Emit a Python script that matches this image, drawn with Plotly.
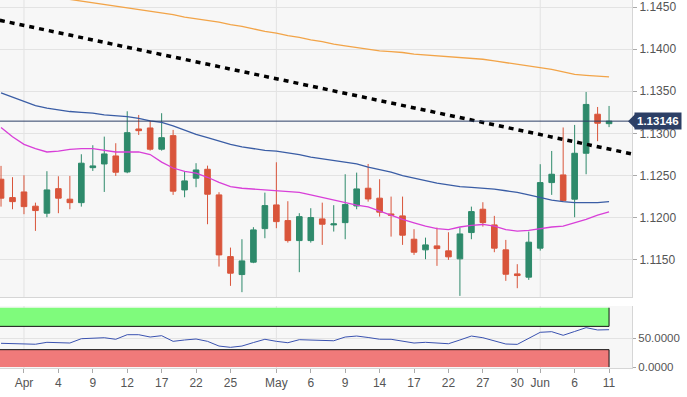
import pandas as pd
import plotly.graph_objects as go

# ---------------- data (EUR/USD daily) ----------------
dates = [d.strftime("%Y-%m-%d") for d in pd.bdate_range("2019-03-28", "2019-06-11")]

open_ = [1.12457, 1.12239, 1.12306, 1.12137, 1.12054, 1.12345, 1.12220, 1.12179, 1.12594, 1.12638,
         1.12733, 1.12543, 1.13053, 1.13065, 1.12813, 1.12974, 1.12330, 1.12469, 1.12575, 1.12271,
         1.11539, 1.11326, 1.11473, 1.11871, 1.12152, 1.11966, 1.11729, 1.11729, 1.11986, 1.11915,
         1.11942, 1.12140, 1.12350, 1.12232, 1.12045, 1.12022, 1.11745, 1.11619, 1.11666, 1.11607,
         1.11512, 1.11824, 1.12101, 1.11915, 1.11619, 1.11334, 1.11295, 1.11639, 1.12417, 1.12508,
         1.12220, 1.12765, 1.13228, 1.13116]
high = [1.12615, 1.12481, 1.12504, 1.12179, 1.12552, 1.12492, 1.12496, 1.12753, 1.12860, 1.12962,
        1.12884, 1.13263, 1.13219, 1.13152, 1.13240, 1.13042, 1.12555, 1.12647, 1.12618, 1.12303,
        1.11646, 1.11745, 1.11888, 1.12298, 1.12658, 1.12196, 1.12054, 1.12113, 1.12179, 1.12149,
        1.12516, 1.12535, 1.12638, 1.12457, 1.12251, 1.12251, 1.11864, 1.11764, 1.11883, 1.11828,
        1.11883, 1.12132, 1.12184, 1.12022, 1.11737, 1.11449, 1.11836, 1.12635, 1.12792, 1.13071,
        1.13101, 1.13492, 1.13314, 1.13326]
low = [1.12132, 1.12101, 1.12042, 1.11844, 1.12006, 1.12054, 1.12101, 1.12132, 1.12555, 1.12306,
       1.12496, 1.12528, 1.12982, 1.12796, 1.12796, 1.12271, 1.12243, 1.12362, 1.11923, 1.11421,
       1.11192, 1.11117, 1.11461, 1.11757, 1.11876, 1.11705, 1.11354, 1.11705, 1.11678, 1.11836,
       1.11745, 1.12101, 1.12191, 1.12013, 1.11776, 1.11678, 1.11559, 1.11508, 1.11429, 1.11500,
       1.11073, 1.11745, 1.11895, 1.11591, 1.11251, 1.11164, 1.11263, 1.11610, 1.12271, 1.12195,
       1.12006, 1.12516, 1.12908, 1.13075]
close = [1.12232, 1.12191, 1.12132, 1.12085, 1.12330, 1.12232, 1.12179, 1.12647, 1.12615, 1.12757,
         1.12540, 1.13009, 1.13033, 1.12813, 1.12950, 1.12315, 1.12437, 1.12567, 1.12279, 1.11559,
         1.11342, 1.11488, 1.11856, 1.12144, 1.11954, 1.11729, 1.12013, 1.12002, 1.11923, 1.11927,
         1.12156, 1.12342, 1.12223, 1.12066, 1.12030, 1.11793, 1.11591, 1.11678, 1.11634, 1.11536,
         1.11808, 1.12073, 1.11942, 1.11639, 1.11330, 1.11314, 1.11710, 1.12417, 1.12516, 1.12203,
         1.12765, 1.13344, 1.13121, 1.13146]

sma_slow = [1.1472, 1.1470, 1.1468, 1.1466, 1.1463, 1.1461, 1.1459, 1.1457, 1.1455, 1.1453,
            1.1451, 1.1449, 1.1447, 1.1445, 1.1443, 1.1441, 1.1438, 1.1436, 1.1434, 1.1432,
            1.1429, 1.1427, 1.1424, 1.1421, 1.1419, 1.1416, 1.1414, 1.1411, 1.1409, 1.1406,
            1.1404, 1.1402, 1.1400, 1.1398, 1.1397, 1.1396, 1.1394, 1.1393, 1.1392, 1.1391,
            1.1390, 1.1389, 1.1388, 1.1386, 1.1384, 1.1382, 1.1380, 1.1378, 1.1376, 1.1373,
            1.1370, 1.1369, 1.1368, 1.1367]
sma_mid = [1.1348, 1.1343, 1.1338, 1.1333, 1.1330, 1.1328, 1.1326, 1.1325, 1.1324, 1.1322,
           1.1321, 1.1320, 1.1318, 1.1315, 1.1313, 1.1309, 1.1304, 1.1299, 1.1295, 1.1291,
           1.1287, 1.1284, 1.1282, 1.1280, 1.1279, 1.1277, 1.1275, 1.1272, 1.1270, 1.1268,
           1.1266, 1.1264, 1.1260, 1.1257, 1.1254, 1.1250, 1.1247, 1.1244, 1.1241, 1.1239,
           1.1237, 1.1236, 1.1235, 1.1234, 1.1232, 1.1230, 1.1227, 1.1224, 1.1221, 1.1219,
           1.1218, 1.1218, 1.1218, 1.1219]
sma_fast = [1.1307, 1.1296, 1.1287, 1.1282, 1.1278, 1.1279, 1.1281, 1.1282, 1.1282, 1.1280,
            1.1278, 1.1278, 1.1278, 1.1275, 1.1266, 1.1259, 1.1255, 1.1253, 1.1248, 1.1242,
            1.1237, 1.1235, 1.1234, 1.1233, 1.1232, 1.1231, 1.1230, 1.1227, 1.1224, 1.1221,
            1.1218, 1.1215, 1.1213, 1.1208, 1.1203, 1.1198, 1.1194, 1.1190, 1.1187, 1.1186,
            1.1189, 1.1191, 1.1192, 1.1190, 1.1186, 1.1184, 1.1185, 1.1187, 1.1189, 1.1190,
            1.1194, 1.1198, 1.1203, 1.1207]
rsi = [40.9, 40.3, 39.7, 39.3, 42.6, 42.1, 41.4, 48.8, 49.7, 50.5,
       47.8, 55.7, 55.7, 51.7, 54.0, 44.3, 46.6, 48.3, 44.3, 36.2,
       34.0, 36.2, 42.2, 47.8, 44.3, 41.9, 47.1, 46.6, 46.0, 45.3,
       51.7, 53.4, 50.9, 47.9, 47.8, 44.0, 41.4, 42.6, 41.4, 40.2,
       46.6, 53.4, 50.5, 45.7, 39.7, 39.1, 49.1, 59.8, 60.9, 54.7,
       61.2, 67.8, 63.8, 64.3]

trend_x = [-0.1, 55.0]
trend_y = [1.14342, 1.12757]
last_price = 1.13146
rsi_upper, rsi_lower = 70, 30

tick_dates = ["2019-04-01", "2019-04-04", "2019-04-09", "2019-04-12", "2019-04-17", "2019-04-22",
              "2019-04-25", "2019-05-01", "2019-05-06", "2019-05-09", "2019-05-14", "2019-05-17",
              "2019-05-22", "2019-05-27", "2019-05-30", "2019-06-03", "2019-06-06", "2019-06-11"]
tick_labels = ["Apr", "4", "9", "12", "17", "22", "25", "May", "6", "9", "14", "17",
               "22", "27", "30", "Jun", "6", "11"]
month_dates = ["2019-04-01", "2019-05-01", "2019-06-03"]
price_ticks = [1.115, 1.120, 1.125, 1.130, 1.135, 1.140, 1.145]

# ---------------------------------------------------------------------------
idx = list(range(len(dates)))
tick_pos = [dates.index(d) for d in tick_dates]
month_pos = [dates.index(d) for d in month_dates]

GREEN = "#2e8a6b"
RED = "#d9553b"
NAVY = "#2c3f66"
FONT = "Liberation Sans"

fig = go.Figure()

fig.add_trace(go.Scatter(x=idx, y=sma_slow, mode="lines",
                         line=dict(color="#f2a448", width=1.3), hoverinfo="skip"))
fig.add_trace(go.Scatter(x=idx, y=sma_mid, mode="lines",
                         line=dict(color="#3a5da5", width=1.3), hoverinfo="skip"))
fig.add_trace(go.Scatter(x=idx, y=sma_fast, mode="lines",
                         line=dict(color="#d83fd8", width=1.3), hoverinfo="skip"))

fig.add_trace(go.Candlestick(
    x=idx, open=open_, high=high, low=low, close=close,
    increasing=dict(line=dict(color=GREEN, width=1), fillcolor=GREEN),
    decreasing=dict(line=dict(color=RED, width=1), fillcolor=RED),
    whiskerwidth=0, showlegend=False))

fig.add_trace(go.Scatter(x=trend_x, y=trend_y, mode="lines",
                         line=dict(color="#000000", width=3.5, dash="5px,5px"),
                         hoverinfo="skip"))

# RSI panel
fig.add_trace(go.Scatter(x=idx, y=rsi, mode="lines", xaxis="x2", yaxis="y2",
                         line=dict(color="#3a52b0", width=1), hoverinfo="skip"))

shapes = []
x_end = idx[-1]
# RSI bands
shapes.append(dict(type="rect", xref="x2", yref="y2", x0=-1, x1=x_end, y0=rsi_upper, y1=102,
                   fillcolor="#7ffb7c", line=dict(width=0), layer="below"))
shapes.append(dict(type="rect", xref="x2", yref="y2", x0=-1, x1=x_end, y0=0, y1=rsi_lower,
                   fillcolor="#f07a7a", line=dict(width=0), layer="below"))
for (ya, yb) in [(rsi_upper, 102), (0, rsi_lower)]:
    shapes.append(dict(type="line", xref="x2", yref="y2", x0=x_end, x1=x_end, y0=ya, y1=yb,
                       line=dict(color="#111111", width=1)))
for yv in (rsi_upper, rsi_lower):
    shapes.append(dict(type="line", xref="x2", yref="y2", x0=-1, x1=x_end, y0=yv, y1=yv,
                       line=dict(color="#111111", width=1)))
# month grid lines
for p in month_pos:
    shapes.append(dict(type="line", xref="x", yref="y domain", x0=p, x1=p, y0=0, y1=1,
                       line=dict(color="#e2e2e2", width=1), layer="below"))
    shapes.append(dict(type="line", xref="x2", yref="y2 domain", x0=p, x1=p, y0=0, y1=1,
                       line=dict(color="#e2e2e2", width=1), layer="below"))
# last price line
shapes.append(dict(type="line", xref="paper", yref="y", x0=0, x1=1, y0=last_price, y1=last_price,
                   line=dict(color=NAVY, width=1)))
# price label arrow
shapes.append(dict(type="path", xref="paper", yref="y", xsizemode="pixel", ysizemode="pixel",
                   xanchor=1, yanchor=last_price, path="M -4 0 L 3 7 L 3 -7 Z",
                   fillcolor=NAVY, line=dict(width=0)))

fig.update_layout(
    width=687, height=397,
    margin=dict(l=0, r=55, t=0, b=29, autoexpand=False),
    paper_bgcolor="#ffffff", plot_bgcolor="#f7f7f7",
    showlegend=False,
    font=dict(family=FONT, size=12, color="#555555"),
    shapes=shapes,
    annotations=[dict(xref="paper", yref="y", x=1, y=last_price, xanchor="left", yanchor="middle",
                      xshift=2, text="<b>1.13146</b>", showarrow=False,
                      font=dict(family=FONT, size=11.5, color="#ffffff"),
                      bgcolor=NAVY, borderpad=2)],
    xaxis=dict(domain=[0, 1], anchor="y", range=[-0.09, 55.0], showticklabels=False,
               showgrid=False, zeroline=False, rangeslider=dict(visible=False),
               showline=True, linecolor="#d6d6d6", ticks="", automargin=False),
    yaxis=dict(domain=[0.193, 1], anchor="x", side="right", range=[1.1106, 1.14583],
               tickvals=price_ticks, tickformat=".4f", showgrid=True, gridcolor="#e3e3e3",
               zeroline=False, showline=True, linecolor="#d6d6d6", ticks="outside",
               ticklen=4, tickcolor="#aaaaaa", tickfont=dict(size=12, color="#555555"),
               automargin=False),
    xaxis2=dict(domain=[0, 1], anchor="y2", matches="x", range=[-0.09, 55.0],
                tickvals=tick_pos, ticktext=tick_labels, showgrid=False, zeroline=False,
                ticks="outside", ticklen=4, tickcolor="#aaaaaa", showline=True,
                linecolor="#d6d6d6", tickfont=dict(size=12, color="#555555"),
                rangeslider=dict(visible=False), automargin=False),
    yaxis2=dict(domain=[0, 0.1685], anchor="x2", side="right", range=[-1.5, 105],
                tickvals=[0, 50], ticktext=["0.0000", "50.0000"], showgrid=True,
                gridcolor="#e3e3e3", zeroline=False, showline=True, linecolor="#d6d6d6",
                ticks="outside", ticklen=3, tickcolor="#aaaaaa",
                tickfont=dict(size=11.5, color="#555555"), automargin=False),
)

fig.write_html("out.html", config={"displayModeBar": False},
               post_script="document.body.style.margin='0px';document.body.style.overflow='hidden';")
